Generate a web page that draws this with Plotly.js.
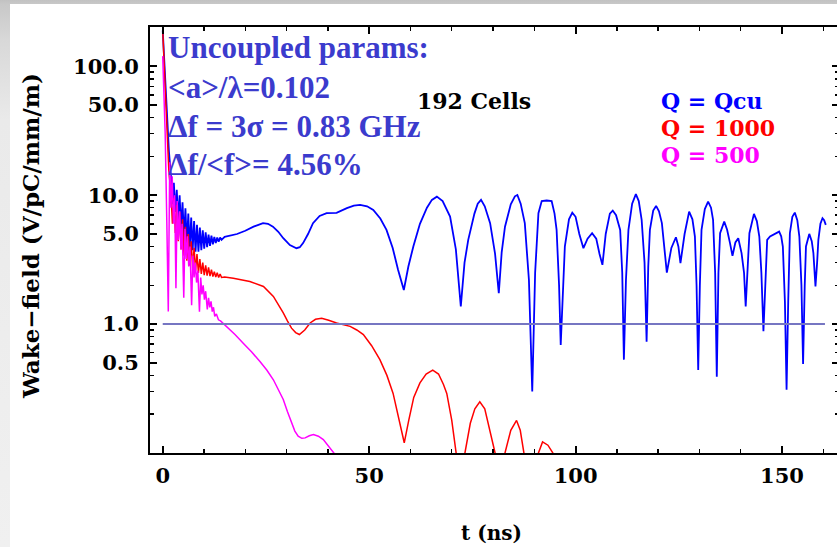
<!DOCTYPE html>
<html>
<head>
<meta charset="utf-8">
<script src="https://cdn.plot.ly/plotly-3.0.1.min.js"></script>
<style>
  html, body { margin:0; padding:0; width:837px; height:547px; overflow:hidden;
    background: linear-gradient(to bottom, #c2c2c2 0px, #c8c8c8 4px, #d8d8d8 40px, #eaeaea 120px, #f0f0f0 547px); }
  #plot { position:absolute; left:10px; top:4px; width:832px; height:543px; background:#fff; }
</style>
</head>
<body>
<div id="plot"></div>
<script>
// ---------------- data ----------------
const tBlue = [0, 0.8, 1.5, 2.0, 2.35, 2.7, 3.05, 3.4, 3.75, 4.1, 4.45, 4.8, 5.15, 5.5, 5.85, 6.2, 6.55, 6.9, 7.25, 7.6, 7.95, 8.3, 8.65, 9.0, 9.35, 9.7, 10.05, 10.4, 10.75, 11.1, 11.45, 11.8, 12.15, 12.5, 12.85, 13.2, 13.55, 13.9, 14.25, 15.0, 15.5, 18, 20, 22, 24.3, 25.5, 26.7, 28, 29.2, 30.8, 32.4, 33.2, 34, 35.2, 36.4, 38, 39.7, 42.1, 44.6, 46.3, 47.8, 49.5, 51, 52.7, 54.2, 55.7, 57, 58.4, 59.5, 60.7, 62.3, 64, 65.2, 66.4, 67.8, 69.6, 71, 72.2, 73.1, 74.0, 75.5, 76.3, 77.1, 78.0, 79.3, 80.5, 81.4, 82.1, 82.9, 84.3, 85.3, 85.9, 86.7, 87.7, 88.7, 89.5, 90.2, 91.0, 91.8, 93.0, 94.2, 94.9, 95.4, 96.0, 96.4, 96.9, 97.4, 98.4, 99.2, 100.0, 100.9, 101.9, 102.9, 104.0, 105.0, 105.8, 106.5, 107.3, 108.3, 109.0, 109.8, 110.8, 111.3, 111.7, 112.2, 112.8, 113.7, 114.6, 115.3, 116.0, 116.7, 117.2, 117.6, 118.0, 118.8, 119.5, 120.2, 120.9, 121.5, 122.1, 123.2, 124.3, 124.9, 125.4, 126.4, 127.5, 128.3, 128.9, 129.3, 129.7, 130.1, 130.5, 131.3, 132.1, 132.8, 133.3, 133.8, 134.2, 134.6, 135.0, 136.0, 136.7, 137.4, 138.0, 138.7, 139.4, 140.2, 140.8, 141.2, 141.7, 142.1, 143.2, 143.9, 144.5, 145.0, 145.5, 146.0, 146.4, 147.1, 148.3, 149.3, 149.8, 150.2, 150.7, 151.1, 151.5, 151.9, 152.5, 153.1, 153.7, 154.2, 154.7, 155.1, 155.5, 155.8, 156.6, 157.2, 157.6, 158.1, 158.5, 158.8, 159.3, 159.8, 160.2, 160.6];
const wBlue = [190, 60, 22, 14, 8.5, 12.5, 7.4, 11, 6.4, 10, 5.5, 8.8, 4.7, 7.9, 4.2, 7.2, 3.9, 6.7, 3.75, 6.3, 3.65, 5.9, 3.65, 5.6, 3.75, 5.35, 3.85, 5.15, 3.95, 4.95, 4.05, 4.85, 4.15, 4.75, 4.25, 4.7, 4.35, 4.7, 4.5, 4.75, 4.8, 5.0, 5.3, 5.7, 6.07, 6.0, 5.7, 5.2, 4.64, 4.1, 3.88, 3.95, 4.25, 5.0, 6.07, 6.9, 7.25, 7.3, 7.93, 8.3, 8.41, 8.2, 7.69, 6.6, 5.38, 3.9, 2.64, 1.84, 2.8, 4.0, 6.0, 8.0, 9.2, 9.75, 9.0, 6.82, 3.8, 1.37, 3.0, 4.5, 7.2, 8.6, 9.2, 8.2, 6.07, 3.5, 1.74, 3.6, 5.7, 8.5, 9.8, 10.05, 8.6, 6.07, 2.2, 0.30, 2.5, 7.25, 9.0, 9.1, 9.0, 7.2, 5.38, 2.0, 0.69, 2.0, 4.0, 6.5, 7.33, 6.8, 5.0, 3.88, 4.6, 5.07, 4.6, 3.5, 2.88, 5.0, 7.2, 7.6, 7.0, 5.38, 2.5, 0.53, 2.2, 5.38, 8.6, 10.2, 9.0, 6.44, 3.0, 0.73, 2.8, 5.38, 7.6, 8.26, 7.5, 6.07, 4.0, 2.51, 3.9, 4.72, 4.0, 2.97, 5.0, 7.46, 6.5, 4.78, 2.0, 0.44, 2.0, 5.38, 7.8, 8.92, 8.0, 6.44, 2.5, 0.39, 2.5, 5.07, 6.24, 5.4, 4.25, 3.38, 4.3, 4.64, 3.55, 2.5, 1.37, 3.0, 5.07, 7.16, 6.3, 4.78, 2.5, 0.88, 2.4, 4.5, 4.78, 5.0, 5.22, 4.8, 4.0, 1.5, 0.31, 1.5, 5.07, 6.8, 7.33, 6.4, 4.78, 2.0, 0.49, 2.0, 4.0, 5.01, 4.4, 3.55, 1.96, 3.0, 4.5, 6.0, 6.63, 6.4, 5.89];

const tRed = [0, 0.8, 1.5, 2.0, 2.35, 2.7, 3.05, 3.4, 3.75, 4.1, 4.45, 4.8, 5.15, 5.5, 5.85, 6.2, 6.55, 6.9, 7.25, 7.6, 7.95, 8.3, 8.65, 9.0, 9.35, 9.7, 10.05, 10.4, 10.75, 11.1, 11.45, 11.8, 12.15, 12.5, 12.85, 13.2, 13.55, 13.9, 14.25, 15.0, 17.1, 21.1, 24.4, 26.8, 28.0, 29.2, 30.2, 31.2, 32.2, 33.1, 34.4, 35.7, 37.0, 38.5, 40.2, 42.1, 45.4, 47.0, 48.6, 50.6, 52.6, 54.3, 55.8, 57.2, 58.5, 59.6, 60.8, 62.3, 63.8, 65.4, 66.8, 68.0, 68.8, 70.0, 71.2, 72.0, 73.2, 74.5, 75.6, 76.8, 78.0, 79.3, 80.5, 81.5, 82.9, 84.3, 85.7, 86.6, 87.5, 89.0, 91.0, 92.0, 93.3, 94.5, 95.0];
const wRed = [190, 50, 15, 10.5, 6, 9.5, 5.1, 8.4, 4.4, 7.4, 3.8, 6.5, 3.4, 5.7, 3.1, 5.0, 2.85, 4.4, 2.7, 3.9, 2.6, 3.5, 2.5, 3.2, 2.45, 3.0, 2.4, 2.85, 2.38, 2.75, 2.36, 2.65, 2.34, 2.55, 2.32, 2.5, 2.3, 2.45, 2.3, 2.32, 2.27, 2.14, 1.96, 1.64, 1.43, 1.22, 1.06, 0.93, 0.86, 0.83, 0.9, 1.02, 1.09, 1.11, 1.07, 1.02, 0.96, 0.9, 0.83, 0.68, 0.53, 0.40, 0.29, 0.18, 0.12, 0.18, 0.27, 0.35, 0.41, 0.44, 0.41, 0.34, 0.29, 0.18, 0.1, 0.06, 0.1, 0.17, 0.22, 0.25, 0.22, 0.15, 0.1, 0.06, 0.1, 0.15, 0.179, 0.15, 0.1, 0.05, 0.1, 0.122, 0.115, 0.1, 0.08];

const tMag = [0, 0.6, 1.0, 1.35, 1.7, 2.0, 2.3, 2.6, 2.9, 3.2, 3.5, 3.8, 4.1, 4.4, 4.7, 5.1, 5.4, 5.7, 6.0, 6.3, 6.6, 7.0, 7.3, 7.6, 7.9, 8.2, 8.5, 8.9, 9.2, 9.5, 9.8, 10.1, 10.4, 10.8, 11.1, 11.4, 11.7, 12.0, 12.3, 12.6, 13.0, 13.5, 14.0, 15.5, 17.5, 19.5, 21.5, 23.6, 25.2, 26.8, 28.0, 29.2, 30.2, 31.2, 32.0, 32.8, 33.7, 34.5, 35.5, 36.5, 37.7, 38.9, 40.0, 40.9, 42.0];
const wMag = [120, 30, 6, 1.25, 18, 8, 14, 6, 10, 1.9, 9, 4.5, 7.5, 3.8, 6, 1.6, 5.5, 3.2, 4.8, 2.8, 4.0, 1.4, 3.4, 2.3, 3.0, 2.1, 2.6, 1.25, 2.3, 1.7, 2.0, 1.55, 1.8, 1.3, 1.6, 1.35, 1.5, 1.25, 1.35, 1.15, 1.2, 1.08, 1.06, 0.96, 0.83, 0.71, 0.61, 0.51, 0.44, 0.37, 0.31, 0.26, 0.21, 0.171, 0.148, 0.135, 0.13, 0.131, 0.136, 0.139, 0.135, 0.127, 0.115, 0.106, 0.095];

const refT = [0, 160.4];
const refW = [1, 1];

const yTickVals = [0.5, 1, 5, 10, 50, 100];
const yTickText = ['0.5', '1.0', '5.0', '10.0', '50.0', '100.0'];
const yMinorVals = [0.2, 0.3, 0.4, 0.6, 0.7, 0.8, 0.9, 2, 3, 4, 6, 7, 8, 9, 20, 30, 40, 60, 70, 80, 90, 200];
const xTickVals = [0, 50, 100, 150];
const xTickText = ['0', '50', '100', '150'];

const infoLines = ['Uncoupled params:', '&lt;a&gt;/λ=0.102', 'Δf = 3σ = 0.83 GHz', 'Δf/&lt;f&gt;= 4.56%'];
const legendLabels = ['Q = Qcu', 'Q = 1000', 'Q = 500'];
const legendColors = ['#0000ff', '#ff0000', '#ff00ff'];

// ---------------- layout helpers (page pixels -> paper) ----------------
const DIV_L = 10, DIV_T = 4, DIV_W = 832, DIV_H = 543;
const PL = 150, PR = 839, PT = 27, PB = 453;
const px = x => (x - PL) / (PR - PL);
const py = y => (PB - y) / (PB - PT);

const serif = 'DejaVu Serif';
const times = 'Liberation Serif, Times New Roman, serif';

const traces = [
  {x: tBlue, y: wBlue, mode: 'lines', line: {color: '#0000ff', width: 1.8}, name: 'Q = Qcu'},
  {x: tRed, y: wRed, mode: 'lines', line: {color: '#ff0000', width: 1.5}, name: 'Q = 1000'},
  {x: tMag, y: wMag, mode: 'lines', line: {color: '#ff00ff', width: 1.5}, name: 'Q = 500'},
  {x: refT, y: refW, mode: 'lines', line: {color: '#7676c2', width: 2}, name: 'ref'}
];

const annotations = [];
const infoY = [47, 87, 126, 164];
infoLines.forEach((s, i) => annotations.push({
  text: s, xref: 'paper', yref: 'paper', x: px(166), y: py(infoY[i]),
  xanchor: 'left', yanchor: 'middle', showarrow: false,
  font: {family: times, size: 31, color: '#3b3bcd', weight: 'bold'}
}));
annotations.push({
  text: '192 Cells', xref: 'paper', yref: 'paper', x: px(474), y: py(101),
  xanchor: 'center', yanchor: 'middle', showarrow: false,
  font: {family: serif, size: 22, color: '#000', weight: 'bold'}
});
const legY = [101, 128, 155];
legendLabels.forEach((s, i) => annotations.push({
  text: s, xref: 'paper', yref: 'paper', x: px(659), y: py(legY[i]),
  xanchor: 'left', yanchor: 'middle', showarrow: false,
  font: {family: serif, size: 22, color: legendColors[i], weight: 'bold'}
}));
annotations.push({
  text: 'Wake−field (V/pC/mm/m)', xref: 'paper', yref: 'paper', x: px(30), y: py(236),
  xanchor: 'center', yanchor: 'middle', textangle: -90, showarrow: false,
  font: {family: serif, size: 23, color: '#000', weight: 'bold'}
});
annotations.push({
  text: 't (ns)', xref: 'paper', yref: 'paper', x: px(491), y: py(533),
  xanchor: 'center', yanchor: 'middle', showarrow: false,
  font: {family: serif, size: 20, color: '#000', weight: 'bold'}
});

const tickFont = {family: serif, size: 21, color: '#000', weight: 'bold'};

const layout = {
  width: DIV_W, height: DIV_H,
  margin: {l: PL - DIV_L, r: DIV_L + DIV_W - PR, t: PT - DIV_T, b: DIV_T + DIV_H - PB},
  paper_bgcolor: '#ffffff', plot_bgcolor: '#ffffff',
  showlegend: false,
  xaxis: {
    range: [-3.08, 163.8], tickmode: 'array', tickvals: xTickVals, ticktext: xTickText,
    ticks: 'inside', ticklen: 7, tickwidth: 2, tickcolor: '#000',
    showline: true, linewidth: 2, linecolor: '#000', mirror: 'ticks',
    showgrid: false, zeroline: false, tickfont: tickFont, ticklabelstandoff: 3,
    minor: {tickmode: 'linear', tick0: 0, dtick: 10, ticks: 'inside', ticklen: 4, tickwidth: 1.5, tickcolor: '#000', showgrid: false}
  },
  yaxis: {
    type: 'log', range: [-1, 2.305], tickmode: 'array', tickvals: yTickVals, ticktext: yTickText,
    ticks: 'inside', ticklen: 7, tickwidth: 2, tickcolor: '#000',
    showline: true, linewidth: 2, linecolor: '#000', mirror: 'ticks',
    showgrid: false, zeroline: false, tickfont: tickFont, ticklabelstandoff: 5,
    minor: {tickmode: 'array', tickvals: yMinorVals, ticks: 'inside', ticklen: 4, tickwidth: 1.5, tickcolor: '#000', showgrid: false}
  },
  annotations: annotations
};

Plotly.newPlot('plot', traces, layout, {staticPlot: true, displayModeBar: false});
</script>
</body>
</html>
